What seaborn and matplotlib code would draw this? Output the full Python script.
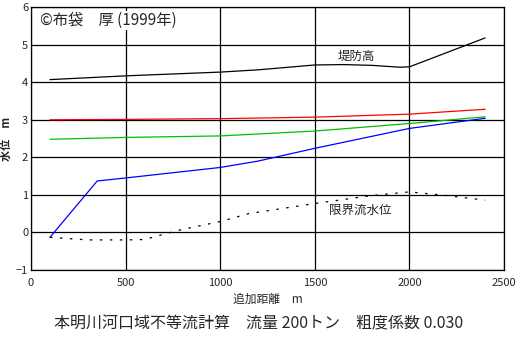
import matplotlib
matplotlib.use("Agg")
import matplotlib.pyplot as plt
import seaborn as sns
import pandas as pd

# --- data ---
levee_x = [100, 500, 1000, 1200, 1500, 1650, 1800, 1950, 2000, 2400]
levee_y = [4.07, 4.17, 4.27, 4.33, 4.46, 4.47, 4.45, 4.40, 4.41, 5.18]

red_x = [100, 500, 1000, 1500, 2000, 2400]
red_y = [3.00, 3.01, 3.03, 3.07, 3.15, 3.28]

green_x = [100, 500, 1000, 1500, 2000, 2400]
green_y = [2.48, 2.53, 2.57, 2.70, 2.90, 3.08]

blue_x = [100, 350, 500, 1000, 1200, 1500, 2000, 2400]
blue_y = [-0.13, 1.37, 1.45, 1.73, 1.90, 2.24, 2.77, 3.04]

crit_x = [100, 300, 500, 600, 700, 800, 1000, 1150, 1500, 1800, 2000, 2200, 2400]
crit_y = [-0.13, -0.20, -0.20, -0.19, -0.05, 0.08, 0.29, 0.50, 0.77, 0.98, 1.08, 0.98, 0.86]

x_ticks = [0, 500, 1000, 1500, 2000, 2500]
y_ticks = [-1, 0, 1, 2, 3, 4, 5, 6]

title = "本明川河口域不等流計算　流量 200トン　粗度係数 0.030"
xlabel = "追加距離　m"
ylabel = "水位　m"
copyright_text = "©布袋　厚 (1999年)"
levee_label = "堤防高"
crit_label = "限界流水位"

sns.set_style("white")
plt.rcParams['font.family'] = ['Noto Sans CJK JP', 'DejaVu Sans']
plt.rcParams['axes.unicode_minus'] = True

fig = plt.figure(figsize=(5.17, 3.40), dpi=100)
ax = fig.add_axes([0.060, 0.206, 0.915, 0.773])

def draw(xs, ys, color, ls="-"):
    df = pd.DataFrame({"x": xs, "y": ys})
    sns.lineplot(data=df, x="x", y="y", ax=ax, color=color, linewidth=0.9,
                 linestyle=ls, estimator=None, sort=False)

draw(levee_x, levee_y, "black")
draw(red_x, red_y, "#ff0000")
draw(green_x, green_y, "#00c000")
draw(blue_x, blue_y, "#0000ff")
draw(crit_x, crit_y, "black", ls=(0, (2, 6)))

ax.set_xlim(0, 2500)
ax.set_ylim(-1, 6)
ax.set_xticks(x_ticks)
ax.set_yticks(y_ticks)
ax.grid(True, color="black", linewidth=0.9)
for s in ax.spines.values():
    s.set_color("black")
    s.set_linewidth(0.9)
ax.tick_params(axis="x", length=0, labelsize=8, pad=6)
ax.tick_params(axis="y", length=0, labelsize=8, pad=2)
ax.set_xlabel(xlabel, fontsize=8.5, labelpad=3)
ax.set_ylabel(ylabel, fontsize=8, labelpad=2, fontweight="bold")

ax.text(50, 5.87, copyright_text, fontsize=11, va="top", ha="left",
        bbox=dict(facecolor="white", edgecolor="none", pad=1), zorder=5)
ax.text(1720, 4.68, levee_label, fontsize=9, ha="center", va="center")
ax.text(1740, 0.58, crit_label, fontsize=9, ha="center", va="center")

fig.text(0.5, 0.048, title, fontsize=11.5, ha="center", va="center")

fig.savefig("out.png", dpi=100, facecolor="white")
